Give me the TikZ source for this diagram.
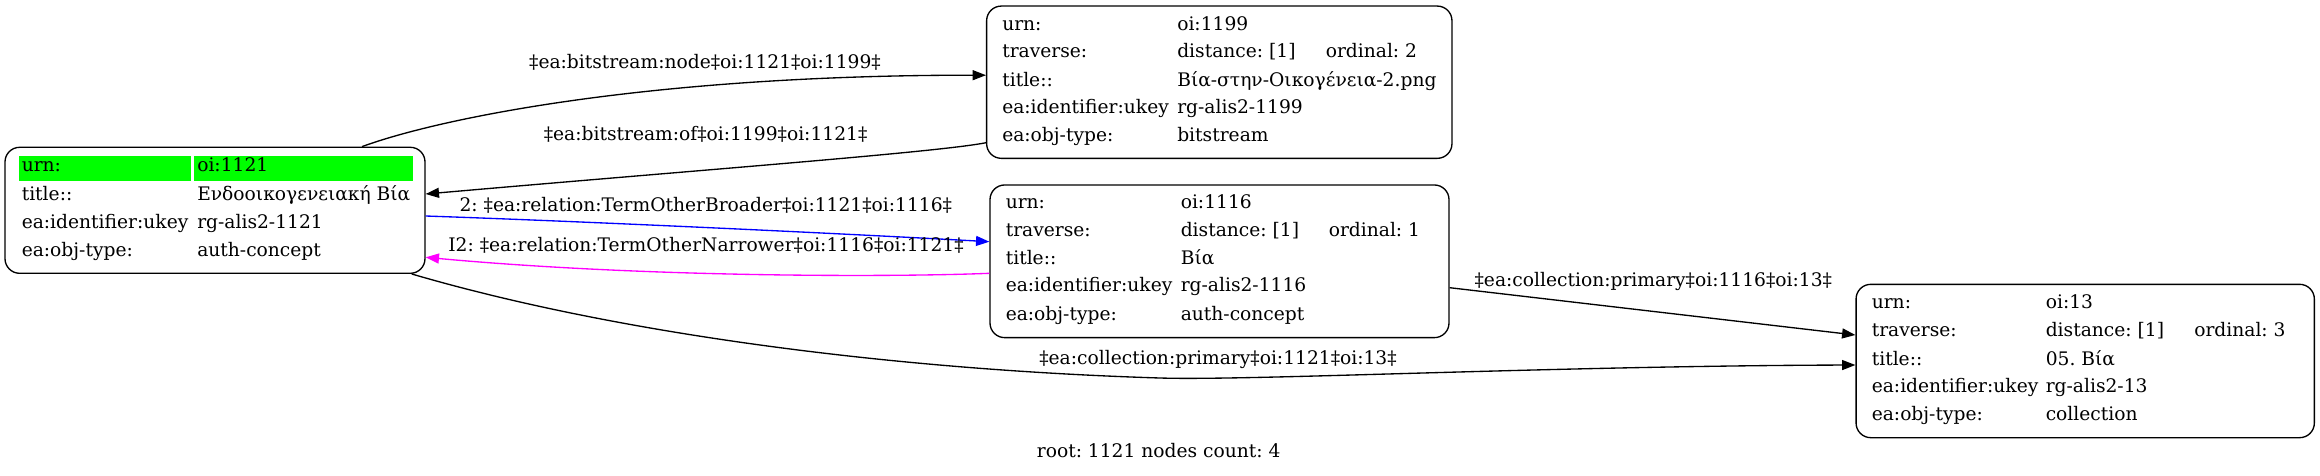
\documentclass[tikz,border=0pt]{standalone}
\usepackage{fontspec}
\setmainfont{DejaVu Serif}
\usetikzlibrary{arrows.meta,calc}
\definecolor{edgemag}{RGB}{255,0,255}
\definecolor{edgeblue}{RGB}{0,0,255}
\definecolor{hlgreen}{RGB}{0,255,0}
\newcommand\kv[6]{\node[txt] (#1k) at (#2,#4) {#5}; \node[txt] (#1v) at (#3,#4) {#6};}
\begin{document}
\begin{tikzpicture}[x=0.75pt,y=-0.75pt,
  every node/.style={font=\fontsize{14pt}{16pt}\selectfont\frenchspacing},
  box/.style={draw, line width=1pt, rounded corners=11pt, inner sep=0pt},
  txt/.style={anchor=mid west, inner sep=0pt},
  lbl/.style={inner sep=0pt, anchor=mid},
  conn/.style={line width=1pt, -{Triangle[length=10pt,width=7.5pt]}},
  hl/.style={fill=hlgreen, draw=none}]
\useasboundingbox (0,0) rectangle (2320,475);
% boxes
\node[box, minimum width=315pt, minimum height=94.5pt] (n1121) at (215,210.3) {};
\node[box, minimum width=349pt, minimum height=114.2pt] (n1199) at (1219.3,82.2) {};
\node[box, minimum width=344.25pt, minimum height=114.5pt] (n1116) at (1219.5,261.3) {};
\node[box, minimum width=343.7pt, minimum height=115pt] (n13) at (2085.2,361) {};
% highlight
\fill[hl] (19,155.7) rectangle (191,180.7);
\fill[hl] (194,155.7) rectangle (413,180.7);
% node 1121
\kv{a1}{21.5}{197}{168}{urn:}{oi:1121}
\kv{a2}{21.5}{197}{196.7}{title::}{Ενδοοικογενειακή Βία}
\kv{a3}{21.5}{197}{225}{ea:identifier:ukey}{rg-alis2-1121}
\kv{a4}{21.5}{197}{253}{ea:obj-type:}{auth-concept}
% node 1199
\kv{b1}{1002}{1177}{26.7}{urn:}{oi:1199}
\kv{b2}{1002}{1177}{54.3}{traverse:}{distance: [1]}
\node[txt] (b2o) at (1325.5,54.3) {ordinal: 2};
\kv{b3}{1002}{1177}{83}{title::}{Βία-στην-Οικογένεια-2.png}
\kv{b4}{1002}{1177}{110.5}{ea:identifier:ukey}{rg-alis2-1199}
\kv{b5}{1002}{1177}{138}{ea:obj-type:}{bitstream}
% node 1116
\kv{c1}{1005.5}{1180.5}{205}{urn:}{oi:1116}
\kv{c2}{1005.5}{1180.5}{233.3}{traverse:}{distance: [1]}
\node[txt] (c2o) at (1328.5,233.3) {ordinal: 1};
\kv{c3}{1005.5}{1180.5}{260.7}{title::}{Βία}
\kv{c4}{1005.5}{1180.5}{288.3}{ea:identifier:ukey}{rg-alis2-1116}
\kv{c5}{1005.5}{1180.5}{316.7}{ea:obj-type:}{auth-concept}
% node 13
\kv{d1}{1871.5}{2045.5}{305}{urn:}{oi:13}
\kv{d2}{1871.5}{2045.5}{333.3}{traverse:}{distance: [1]}
\node[txt] (d2o) at (2194,333.3) {ordinal: 3};
\kv{d3}{1871.5}{2045.5}{361.7}{title::}{05. Βία}
\kv{d4}{1871.5}{2045.5}{389.3}{ea:identifier:ukey}{rg-alis2-13}
\kv{d5}{1871.5}{2045.5}{416.7}{ea:obj-type:}{collection}
% edges
\draw[conn] ($(n1121.north)+(147,0)$) .. controls (440,118) and (650,75) .. ($(n1199.west)+(0,-7)$);
\node[lbl] (l1) at (705,65) {‡ea:bitstream:node‡oi:1121‡oi:1199‡};
\draw[conn] ($(n1199.west)+(0,60.5)$) .. controls (940,152) and (700,170) .. ($(n1121.east)+(0,-16.3)$);
\node[lbl] (l2) at (705.6,136.7) {‡ea:bitstream:of‡oi:1199‡oi:1121‡};
\draw[conn, edgeblue] ($(n1121.east)+(0,5.7)$) .. controls (600,222) and (850,234) .. ($(n1116.west)+(0,-19.6)$);
\node[lbl] (l3) at (705.8,208.3) {2: ‡ea:relation:TermOtherBroader‡oi:1121‡oi:1116‡};
\draw[conn, edgemag] ($(n1116.west)+(0,12)$) .. controls (900,277) and (650,278) .. ($(n1121.east)+(0,47)$);
\node[lbl] (l4) at (706,248.3) {I2: ‡ea:relation:TermOtherNarrower‡oi:1116‡oi:1121‡};
\draw[conn] ($(n1116.east)+(0,26.4)$) -- ($(n13.west)+(0,-26)$);
\node[lbl] (l5) at (1653.3,283.3) {‡ea:collection:primary‡oi:1116‡oi:13‡};
\draw[conn] ($(n1121.south)+(196.7,0)$) .. controls (620,335) and (900,370) .. (1160,378) .. controls (1250,380.8) and (1550,366) .. ($(n13.west)+(0,4)$);
\node[lbl] (l6) at (1218,360.7) {‡ea:collection:primary‡oi:1121‡oi:13‡};
\node[lbl] (root) at (1158.7,454) {root: 1121 nodes count: 4};
\end{tikzpicture}
\end{document}
